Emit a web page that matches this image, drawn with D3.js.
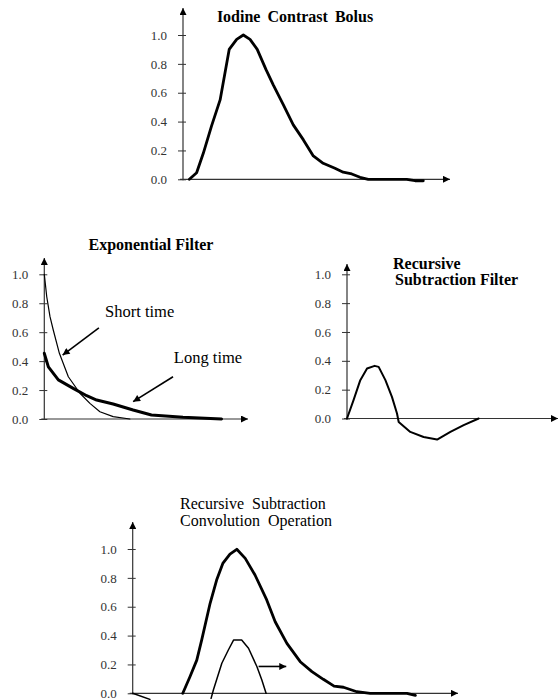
<!DOCTYPE html>
<html><head><meta charset="utf-8">
<script src="https://cdn.jsdelivr.net/npm/d3@7"></script>
<style>
html,body{margin:0;padding:0;background:#fff;}
svg{display:block;}
text{font-family:"Liberation Serif","Times New Roman",serif;}
</style></head>
<body><svg id="c" width="560" height="700"></svg>
<script>
// ---------- data ----------
const yTicks = [0, 0.2, 0.4, 0.6, 0.8, 1.0];

const bolusX = [2.4, 5.1, 7.6, 10.7, 13.9, 17.3, 20.1, 22.6, 25.1, 27.8, 31.1, 33.8, 37.6, 41.3, 45.1, 48.8, 52.5, 56.9, 60.0, 63.2, 66.3, 69.4, 75, 83.8, 86.9, 90];
const bolusY = [0, 0.045, 0.18, 0.37, 0.55, 0.90, 0.97, 1.0, 0.97, 0.90, 0.76, 0.655, 0.516, 0.377, 0.273, 0.162, 0.111, 0.076, 0.049, 0.037, 0.014, 0, 0, 0, -0.01, -0.01];

const shortX = [0, 1.2, 2.8, 4.4, 7.4, 11.8, 17.5, 22.4, 27.3, 33.8, 42];
const shortY = [1.0, 0.845, 0.707, 0.615, 0.454, 0.292, 0.178, 0.108, 0.05, 0.016, 0];

const longX = [0, 2.0, 6.9, 14.2, 20.8, 25.7, 33.8, 43.6, 52.6, 68.1, 87];
const longY = [0.454, 0.36, 0.27, 0.212, 0.161, 0.131, 0.104, 0.062, 0.028, 0.012, 0];

const rsfX = [0, 3.1, 6.3, 9.5, 13.1, 15, 18.2, 21.3, 23.7, 24.5, 30, 36.3, 42.7, 49, 55.3, 62.4];
const rsfY = [0, 0.127, 0.266, 0.347, 0.365, 0.358, 0.266, 0.15, 0.035, -0.024, -0.093, -0.128, -0.146, -0.093, -0.046, 0];

const convX = [15.4, 17.6, 19.7, 21.2, 23.8, 25.8, 27.7, 29.9, 32, 34.6, 37.6, 41.2, 43.8, 47.4, 51.5, 55.1, 58.6, 61.9, 64.8, 68.9, 73, 80.2, 84.3, 86.9];
const convY = [0, 0.115, 0.23, 0.369, 0.624, 0.785, 0.9, 0.965, 0.998, 0.935, 0.82, 0.647, 0.496, 0.346, 0.219, 0.15, 0.097, 0.05, 0.042, 0.011, 0, 0, 0, -0.014];

const kernX = [24.1, 24.8, 27.4, 29.4, 31, 33.5, 35.6, 38.2, 39.7, 41];
const kernY = [-0.035, 0.023, 0.208, 0.3, 0.369, 0.369, 0.312, 0.184, 0.092, 0];

const dipX = [0, 5.3];
const dipY = [0, -0.042];

// ---------- drawing ----------
const svg = d3.select("#c");
const defs = svg.append("defs");
defs.append("marker").attr("id","ah").attr("viewBox","0 0 10 10").attr("refX",10).attr("refY",5)
  .attr("markerWidth",11).attr("markerHeight",7).attr("markerUnits","userSpaceOnUse").attr("orient","auto")
  .append("path").attr("d","M0,0 L10,5 L0,10 Z").attr("fill","#000");
defs.append("marker").attr("id","axh").attr("viewBox","0 0 10 10").attr("refX",10).attr("refY",5)
  .attr("markerWidth",12).attr("markerHeight",7).attr("markerUnits","userSpaceOnUse").attr("orient","auto")
  .append("path").attr("d","M0,0 L10,5 L0,10 Z").attr("fill","#000");

function panel(p) {
  const x = d3.scaleLinear().domain([0, 100]).range([p.x0, p.x1]);
  const y = d3.scaleLinear().domain([0, 1]).range([p.y0, p.y1]);
  const g = svg.append("g");
  const ax = g.append("g").attr("transform", `translate(${p.x0},0)`)
    .call(d3.axisLeft(y).tickValues(yTicks).tickFormat(d3.format(".1f")).tickSizeInner(5).tickSizeOuter(0).tickPadding(11));
  ax.select(".domain").remove();
  ax.selectAll(".tick line").attr("x1", 3).attr("x2", -5).attr("stroke", "#333");
  ax.selectAll(".tick text").attr("font-size", 13).attr("fill", "#333");
  g.append("line").attr("x1", p.x0).attr("y1", p.y0 + 1).attr("x2", p.x0).attr("y2", p.top)
    .attr("stroke", "#333").attr("stroke-width", 1.2).attr("marker-end", "url(#axh)");
  g.append("line").attr("x1", p.x0 - 3).attr("y1", p.y0).attr("x2", p.x1).attr("y2", p.y0)
    .attr("stroke", "#333").attr("stroke-width", 1.2).attr("marker-end", "url(#axh)");
  return {g, x, y};
}

function series(P, xs, ys, w) {
  const line = d3.line().x(d => P.x(d[0])).y(d => P.y(d[1]));
  P.g.append("path").datum(d3.zip(xs, ys)).attr("d", line)
    .attr("fill", "none").attr("stroke", "#000").attr("stroke-width", w)
    .attr("stroke-linejoin", "round").attr("stroke-linecap", "round");
}

function arrow(P, xa, ya, xb, yb) {
  P.g.append("line").attr("x1", P.x(xa)).attr("y1", P.y(ya)).attr("x2", P.x(xb)).attr("y2", P.y(yb))
    .attr("stroke", "#000").attr("stroke-width", 1.6).attr("marker-end", "url(#ah)");
}

// Top: Iodine Contrast Bolus
const A = panel({x0: 183, x1: 450, y0: 179.3, y1: 35, top: 8});
series(A, bolusX, bolusY, 2.8);
svg.append("text").attr("x", 295).attr("y", 22).attr("text-anchor", "middle")
  .attr("font-size", 16).attr("font-weight", "bold").attr("word-spacing", 3).text("Iodine Contrast Bolus");

// Middle left: Exponential Filter
const B = panel({x0: 44.3, x1: 248, y0: 419, y1: 274.3, top: 258});
series(B, shortX, shortY, 1.2);
series(B, longX, longY, 3);
svg.append("text").attr("x", 151).attr("y", 250).attr("text-anchor", "middle")
  .attr("font-size", 16).attr("font-weight", "bold").text("Exponential Filter");
B.g.append("text").attr("x", B.x(29.8)).attr("y", B.y(0.705)).attr("font-size", 16.5).text("Short time");
B.g.append("text").attr("x", B.x(63.6)).attr("y", B.y(0.387)).attr("font-size", 16.5).text("Long time");
arrow(B, 26.8, 0.629, 9.0, 0.442);
arrow(B, 63.2, 0.292, 43.6, 0.12);

// Middle right: Recursive Subtraction Filter
const C = panel({x0: 347, x1: 558, y0: 418.5, y1: 274.3, top: 264});
series(C, rsfX, rsfY, 2);
svg.append("text").attr("x", 393).attr("y", 269).attr("font-size", 16).attr("font-weight", "bold").text("Recursive");
svg.append("text").attr("x", 395).attr("y", 285).attr("font-size", 16).attr("font-weight", "bold").text("Subtraction Filter");

// Bottom: Convolution operation
const D = panel({x0: 132.7, x1: 458, y0: 693.3, y1: 549, top: 522});
series(D, convX, convY, 2.8);
series(D, kernX, kernY, 1.5);
series(D, dipX, dipY, 1.5);
arrow(D, 38.7, 0.186, 47.2, 0.186);
svg.append("text").attr("x", 180).attr("y", 509).attr("font-size", 16).attr("word-spacing", 4).text("Recursive Subtraction");
svg.append("text").attr("x", 180).attr("y", 526).attr("font-size", 16).attr("word-spacing", 4).text("Convolution Operation");
</script></body></html>
